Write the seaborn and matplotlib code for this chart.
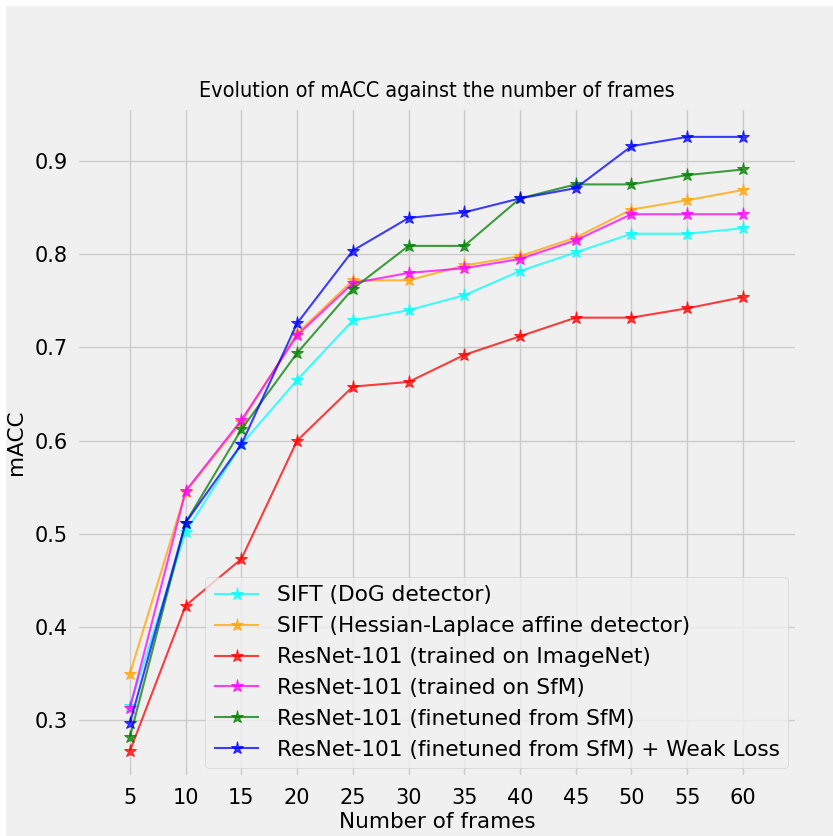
import matplotlib
matplotlib.use("Agg")
import matplotlib.pyplot as plt
from matplotlib.patches import Rectangle
import seaborn as sns

frames = [5, 10, 15, 20, 25, 30, 35, 40, 45, 50, 55, 60]

sift_dog = [0.315, 0.502, 0.596, 0.665, 0.729, 0.740, 0.756, 0.782, 0.802, 0.822, 0.822, 0.828]
sift_hessian = [0.350, 0.545, 0.620, 0.715, 0.772, 0.772, 0.788, 0.798, 0.818, 0.848, 0.858, 0.869]
resnet_imagenet = [0.267, 0.423, 0.473, 0.600, 0.658, 0.663, 0.692, 0.712, 0.732, 0.732, 0.742, 0.754]
resnet_sfm = [0.313, 0.546, 0.622, 0.713, 0.769, 0.780, 0.785, 0.795, 0.815, 0.843, 0.843, 0.843]
resnet_finetuned = [0.282, 0.512, 0.612, 0.694, 0.763, 0.809, 0.809, 0.860, 0.875, 0.875, 0.885, 0.891]
resnet_weak = [0.297, 0.512, 0.596, 0.726, 0.804, 0.839, 0.845, 0.860, 0.871, 0.916, 0.926, 0.926]

labels = [
    "SIFT (DoG detector)",
    "SIFT (Hessian-Laplace affine detector)",
    "ResNet-101 (trained on ImageNet)",
    "ResNet-101 (trained on SfM)",
    "ResNet-101 (finetuned from SfM)",
    "ResNet-101 (finetuned from SfM) + Weak Loss",
]
colors = ["cyan", "orange", "red", "magenta", "green", "blue"]
series = [sift_dog, sift_hessian, resnet_imagenet, resnet_sfm, resnet_finetuned, resnet_weak]

plt.style.use("fivethirtyeight")
plt.rcParams["font.family"] = ["DejaVu Sans"]

fig = plt.figure(figsize=(8.33, 8.36), dpi=100, facecolor="white")
# grey canvas, leaving the thin white strip at top/left like the original
fig.patches.append(Rectangle((6 / 833, 0), 1, 1 - 6 / 836, transform=fig.transFigure,
                             facecolor="#f0f0f0", edgecolor="none", zorder=-10))
ax = fig.add_axes([77 / 833, 59 / 836, 720 / 833, 669 / 836])

for vals, lab, col in zip(series, labels, colors):
    sns.lineplot(x=frames, y=vals, ax=ax, color=col, label=lab, marker="*",
                 markersize=9.5, markeredgecolor=col, linewidth=1.5, alpha=0.75)

ax.set_xticks(frames)
ax.set_xlim(0.25, 64.85)
ax.set_ylim(0.239, 0.957)
ax.set_yticks([0.3, 0.4, 0.5, 0.6, 0.7, 0.8, 0.9])
ax.tick_params(axis="x", labelsize=15, pad=8)
ax.tick_params(axis="y", labelsize=15, pad=6.5)
ax.set_xlabel("Number of frames", fontsize=15.5, labelpad=3)
ax.set_ylabel("mACC", fontsize=15.5, labelpad=6)
ax.set_title("Evolution of mACC against the number of frames", fontsize=15.5,
             fontstretch="condensed", pad=8)
ax.legend(loc="lower right", fontsize=15.6, borderaxespad=0.4, handlelength=2.1)

fig.savefig("out.png", dpi=100, facecolor=fig.get_facecolor())
